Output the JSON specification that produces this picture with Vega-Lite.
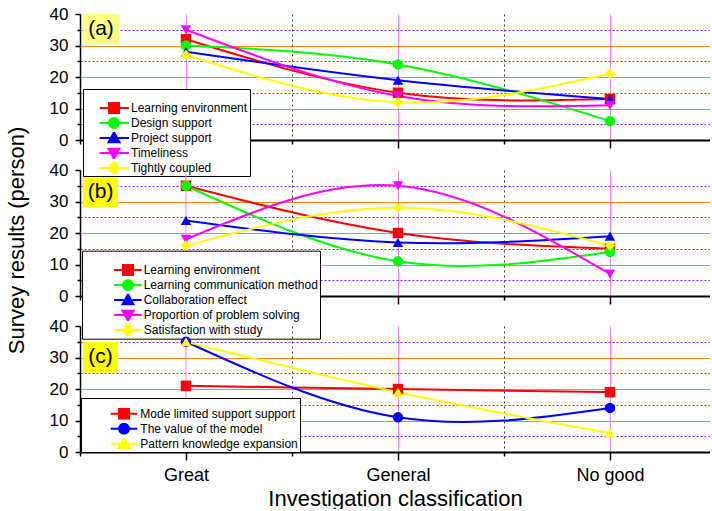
{
  "$schema": "https://vega.github.io/schema/vega-lite/v6.json",
  "padding": {"left": 5, "top": 5, "right": 0, "bottom": 0},
  "bounds": "flush",
  "spacing": 30,
  "config": {"font": "Liberation Sans", "view": {"stroke": null}},
  "data": {"values": [
    {"panel": "a", "series": "Learning environment", "category": "Great", "idx": 1, "value": 32},
    {"panel": "a", "series": "Learning environment", "category": "General", "idx": 2, "value": 15},
    {"panel": "a", "series": "Learning environment", "category": "No good", "idx": 3, "value": 13},
    {"panel": "a", "series": "Design support", "category": "Great", "idx": 1, "value": 30},
    {"panel": "a", "series": "Design support", "category": "General", "idx": 2, "value": 24},
    {"panel": "a", "series": "Design support", "category": "No good", "idx": 3, "value": 6},
    {"panel": "a", "series": "Project support", "category": "Great", "idx": 1, "value": 28},
    {"panel": "a", "series": "Project support", "category": "General", "idx": 2, "value": 19},
    {"panel": "a", "series": "Project support", "category": "No good", "idx": 3, "value": 13},
    {"panel": "a", "series": "Timeliness", "category": "Great", "idx": 1, "value": 35},
    {"panel": "a", "series": "Timeliness", "category": "General", "idx": 2, "value": 14},
    {"panel": "a", "series": "Timeliness", "category": "No good", "idx": 3, "value": 11},
    {"panel": "a", "series": "Tightly coupled", "category": "Great", "idx": 1, "value": 27},
    {"panel": "a", "series": "Tightly coupled", "category": "General", "idx": 2, "value": 12},
    {"panel": "a", "series": "Tightly coupled", "category": "No good", "idx": 3, "value": 21},
    {"panel": "b", "series": "Learning environment", "category": "Great", "idx": 1, "value": 35},
    {"panel": "b", "series": "Learning environment", "category": "General", "idx": 2, "value": 20},
    {"panel": "b", "series": "Learning environment", "category": "No good", "idx": 3, "value": 15},
    {"panel": "b", "series": "Learning communication method", "category": "Great", "idx": 1, "value": 35},
    {"panel": "b", "series": "Learning communication method", "category": "General", "idx": 2, "value": 11},
    {"panel": "b", "series": "Learning communication method", "category": "No good", "idx": 3, "value": 14},
    {"panel": "b", "series": "Collaboration effect", "category": "Great", "idx": 1, "value": 24},
    {"panel": "b", "series": "Collaboration effect", "category": "General", "idx": 2, "value": 17},
    {"panel": "b", "series": "Collaboration effect", "category": "No good", "idx": 3, "value": 19},
    {"panel": "b", "series": "Proportion of problem solving", "category": "Great", "idx": 1, "value": 18},
    {"panel": "b", "series": "Proportion of problem solving", "category": "General", "idx": 2, "value": 35},
    {"panel": "b", "series": "Proportion of problem solving", "category": "No good", "idx": 3, "value": 7},
    {"panel": "b", "series": "Satisfaction with study", "category": "Great", "idx": 1, "value": 16},
    {"panel": "b", "series": "Satisfaction with study", "category": "General", "idx": 2, "value": 28},
    {"panel": "b", "series": "Satisfaction with study", "category": "No good", "idx": 3, "value": 16},
    {"panel": "c", "series": "Mode limited support support", "category": "Great", "idx": 1, "value": 21},
    {"panel": "c", "series": "Mode limited support support", "category": "General", "idx": 2, "value": 20},
    {"panel": "c", "series": "Mode limited support support", "category": "No good", "idx": 3, "value": 19},
    {"panel": "c", "series": "The value of the model", "category": "Great", "idx": 1, "value": 35},
    {"panel": "c", "series": "The value of the model", "category": "General", "idx": 2, "value": 11},
    {"panel": "c", "series": "The value of the model", "category": "No good", "idx": 3, "value": 14},
    {"panel": "c", "series": "Pattern knowledge expansion", "category": "Great", "idx": 1, "value": 35},
    {"panel": "c", "series": "Pattern knowledge expansion", "category": "General", "idx": 2, "value": 19},
    {"panel": "c", "series": "Pattern knowledge expansion", "category": "No good", "idx": 3, "value": 6}
  ]},
  "vconcat": [
    {
      "width": 630, "height": 126,
      "resolve": {"scale": {"color": "independent", "shape": "independent", "fill": "independent", "stroke": "independent"}},
      "layer": [
        {
          "transform": [{"filter": "datum.panel === 'a'"}],
          "mark": {"type": "line", "interpolate": "natural", "strokeWidth": 2},
          "encoding": {
            "x": {"field": "idx", "type": "quantitative", "scale": {"domain": [0.5, 3.4717], "nice": false, "zero": false},
              "axis": {"values": [0.5, 1, 1.5, 2, 2.5, 3], "labels": false, "title": null, "tickSize": {"condition": {"test": "datum.value % 1 === 0", "value": 8}, "value": 4}, "tickColor": "black", "tickWidth": 1.5, "domainColor": "black", "domainWidth": 2, "grid": true, "gridColor": {"condition": {"test": "datum.value % 1 === 0", "value": "#ff80ff"}, "value": "#333333"}, "gridDash": {"condition": {"test": "datum.value % 1 === 0", "value": []}, "value": [2, 3]}, "gridOpacity": {"condition": {"test": "datum.value === 0.5", "value": 0}, "value": 1}, "gridWidth": 1}},
            "y": {"field": "value", "type": "quantitative", "scale": {"domain": [0, 40], "nice": false},
              "axis": {"values": [0, 5, 10, 15, 20, 25, 30, 35, 40], "title": null, "labelExpr": "datum.value % 10 === 0 ? datum.label : ''", "labelOverlap": false, "labelFlush": false, "labelFontSize": 17, "labelColor": "black", "labelPadding": 7, "tickSize": {"condition": {"test": "datum.value % 10 === 0", "value": 5}, "value": 3}, "tickColor": "black", "tickWidth": 1.5, "domainColor": "black", "domainWidth": 1.5, "grid": true, "gridColor": {"condition": {"test": "datum.value % 10 === 0", "value": "#ff8c1a"}, "value": "#8c1aff"}, "gridDash": {"condition": {"test": "datum.value % 10 === 0", "value": []}, "value": [2, 2]}, "gridOpacity": {"condition": {"test": "datum.value === 0 || datum.value === 40", "value": 0}, "value": 1}, "gridWidth": 1.2}},
            "color": {"field": "series", "type": "nominal",
              "scale": {"domain": ["Learning environment", "Design support", "Project support", "Timeliness", "Tightly coupled"], "range": ["#ff0000", "#00ff00", "#0000ff", "#ff00ff", "#ffff00"]}, "legend": null}
          }
        },
        {
          "transform": [{"filter": "datum.panel === 'a'"}],
          "mark": {"type": "point", "filled": true, "size": 110, "opacity": 1},
          "encoding": {
            "x": {"field": "idx", "type": "quantitative",
              "axis": {"values": [0.5, 1, 1.5, 2, 2.5, 3], "labels": false, "title": null, "tickSize": {"condition": {"test": "datum.value % 1 === 0", "value": 8}, "value": 4}, "tickColor": "black", "tickWidth": 1.5, "domainColor": "black", "domainWidth": 2, "grid": true, "gridColor": {"condition": {"test": "datum.value % 1 === 0", "value": "#ff80ff"}, "value": "#333333"}, "gridDash": {"condition": {"test": "datum.value % 1 === 0", "value": []}, "value": [2, 3]}, "gridOpacity": {"condition": {"test": "datum.value === 0.5", "value": 0}, "value": 1}, "gridWidth": 1}},
            "y": {"field": "value", "type": "quantitative",
              "axis": {"values": [0, 5, 10, 15, 20, 25, 30, 35, 40], "title": null, "labelExpr": "datum.value % 10 === 0 ? datum.label : ''", "labelOverlap": false, "labelFlush": false, "labelFontSize": 17, "labelColor": "black", "labelPadding": 7, "tickSize": {"condition": {"test": "datum.value % 10 === 0", "value": 5}, "value": 3}, "tickColor": "black", "tickWidth": 1.5, "domainColor": "black", "domainWidth": 1.5, "grid": true, "gridColor": {"condition": {"test": "datum.value % 10 === 0", "value": "#ff8c1a"}, "value": "#8c1aff"}, "gridDash": {"condition": {"test": "datum.value % 10 === 0", "value": []}, "value": [2, 2]}, "gridOpacity": {"condition": {"test": "datum.value === 0 || datum.value === 40", "value": 0}, "value": 1}, "gridWidth": 1.2}},
            "color": {"field": "series", "type": "nominal",
              "scale": {"domain": ["Learning environment", "Design support", "Project support", "Timeliness", "Tightly coupled"], "range": ["#ff0000", "#00ff00", "#0000ff", "#ff00ff", "#ffff00"]}, "legend": null},
            "shape": {"field": "series", "type": "nominal",
              "scale": {"domain": ["Learning environment", "Design support", "Project support", "Timeliness", "Tightly coupled"], "range": ["square", "circle", "triangle-up", "triangle-down", "diamond"]}, "legend": null}
          }
        },
        {
          "transform": [{"filter": "datum.panel === 'legend-a'"}],
          "mark": {"type": "point", "filled": true, "size": 100, "strokeWidth": 2, "opacity": 1},
          "encoding": {
            "fill": {"field": "series", "type": "nominal",
              "scale": {"domain": ["Learning environment", "Design support", "Project support", "Timeliness", "Tightly coupled"], "range": ["#ff0000", "#00ff00", "#0000ff", "#ff00ff", "#ffff00"]},
              "legend": {"title": ".", "titleColor": "white", "titleFontSize": 9, "titlePadding": 2, "orient": "none", "legendX": 3, "legendY": 75, "padding": 2, "strokeColor": "black", "fillColor": "white", "labelFontSize": 12, "labelColor": "black", "labelOffset": 34, "labelLimit": 500, "rowPadding": 3, "clipHeight": 12, "symbolSize": 100, "symbolStrokeWidth": 2, "symbolOpacity": 1}},
            "stroke": {"field": "series", "type": "nominal",
              "scale": {"domain": ["Learning environment", "Design support", "Project support", "Timeliness", "Tightly coupled"], "range": ["#ff0000", "#00ff00", "#0000ff", "#ff00ff", "#ffff00"]},
              "legend": {"title": ".", "titleColor": "white", "titleFontSize": 9, "titlePadding": 2, "orient": "none", "legendX": 3, "legendY": 75, "padding": 2, "strokeColor": "black", "fillColor": "white", "labelFontSize": 12, "labelColor": "black", "labelOffset": 34, "labelLimit": 500, "rowPadding": 3, "clipHeight": 12, "symbolSize": 100, "symbolStrokeWidth": 2, "symbolOpacity": 1}},
            "shape": {"field": "series", "type": "nominal",
              "scale": {"domain": ["Learning environment", "Design support", "Project support", "Timeliness", "Tightly coupled"], "range": ["M1.74,0H7.6M3.6,-1H5.6V1H3.6Z", "M1.74,0H7.6M3.6,0A1,1 0 1,0 5.6,0A1,1 0 1,0 3.6,0Z", "M1.74,0H7.6M4.6,-1.15L5.7,0.85H3.5Z", "M1.74,0H7.6M4.6,1.15L5.7,-0.85H3.5Z", "M1.74,0H7.6M4.6,-1.3L5.6,0L4.6,1.3L3.6,0Z"]},
              "legend": {"title": ".", "titleColor": "white", "titleFontSize": 9, "titlePadding": 2, "orient": "none", "legendX": 3, "legendY": 75, "padding": 2, "strokeColor": "black", "fillColor": "white", "labelFontSize": 12, "labelColor": "black", "labelOffset": 34, "labelLimit": 500, "rowPadding": 3, "clipHeight": 12, "symbolSize": 100, "symbolStrokeWidth": 2, "symbolOpacity": 1}}
          }
        },
        {
          "data": {"values": [{"label": "(a)"}]},
          "mark": {"type": "rect", "color": "#ffff80"},
          "encoding": {
            "x": {"datum": 0.514, "axis": {"values": [0.5, 1, 1.5, 2, 2.5, 3], "labels": false, "title": null, "tickSize": {"condition": {"test": "datum.value % 1 === 0", "value": 8}, "value": 4}, "tickColor": "black", "tickWidth": 1.5, "domainColor": "black", "domainWidth": 2, "grid": true, "gridColor": {"condition": {"test": "datum.value % 1 === 0", "value": "#ff80ff"}, "value": "#333333"}, "gridDash": {"condition": {"test": "datum.value % 1 === 0", "value": []}, "value": [2, 3]}, "gridOpacity": {"condition": {"test": "datum.value === 0.5", "value": 0}, "value": 1}, "gridWidth": 1}},
            "x2": {"datum": 0.684},
            "y": {"datum": 40, "axis": {"values": [0, 5, 10, 15, 20, 25, 30, 35, 40], "title": null, "labelExpr": "datum.value % 10 === 0 ? datum.label : ''", "labelOverlap": false, "labelFlush": false, "labelFontSize": 17, "labelColor": "black", "labelPadding": 7, "tickSize": {"condition": {"test": "datum.value % 10 === 0", "value": 5}, "value": 3}, "tickColor": "black", "tickWidth": 1.5, "domainColor": "black", "domainWidth": 1.5, "grid": true, "gridColor": {"condition": {"test": "datum.value % 10 === 0", "value": "#ff8c1a"}, "value": "#8c1aff"}, "gridDash": {"condition": {"test": "datum.value % 10 === 0", "value": []}, "value": [2, 2]}, "gridOpacity": {"condition": {"test": "datum.value === 0 || datum.value === 40", "value": 0}, "value": 1}, "gridWidth": 1.2}},
            "y2": {"datum": 30.5}
          }
        },
        {
          "data": {"values": [{"label": "(a)"}]},
          "mark": {"type": "text", "fontSize": 21, "color": "black"},
          "encoding": {
            "x": {"datum": 0.599, "axis": {"values": [0.5, 1, 1.5, 2, 2.5, 3], "labels": false, "title": null, "tickSize": {"condition": {"test": "datum.value % 1 === 0", "value": 8}, "value": 4}, "tickColor": "black", "tickWidth": 1.5, "domainColor": "black", "domainWidth": 2, "grid": true, "gridColor": {"condition": {"test": "datum.value % 1 === 0", "value": "#ff80ff"}, "value": "#333333"}, "gridDash": {"condition": {"test": "datum.value % 1 === 0", "value": []}, "value": [2, 3]}, "gridOpacity": {"condition": {"test": "datum.value === 0.5", "value": 0}, "value": 1}, "gridWidth": 1}},
            "y": {"datum": 35.25, "axis": {"values": [0, 5, 10, 15, 20, 25, 30, 35, 40], "title": null, "labelExpr": "datum.value % 10 === 0 ? datum.label : ''", "labelOverlap": false, "labelFlush": false, "labelFontSize": 17, "labelColor": "black", "labelPadding": 7, "tickSize": {"condition": {"test": "datum.value % 10 === 0", "value": 5}, "value": 3}, "tickColor": "black", "tickWidth": 1.5, "domainColor": "black", "domainWidth": 1.5, "grid": true, "gridColor": {"condition": {"test": "datum.value % 10 === 0", "value": "#ff8c1a"}, "value": "#8c1aff"}, "gridDash": {"condition": {"test": "datum.value % 10 === 0", "value": []}, "value": [2, 2]}, "gridOpacity": {"condition": {"test": "datum.value === 0 || datum.value === 40", "value": 0}, "value": 1}, "gridWidth": 1.2}},
            "text": {"field": "label"}
          }
        }
      ]
    },
    {
      "width": 630, "height": 126,
      "resolve": {"scale": {"color": "independent", "shape": "independent", "fill": "independent", "stroke": "independent"}},
      "layer": [
        {
          "data": {"values": [{"label": "Great"}]},
          "mark": {"type": "rule", "color": "#ff80ff", "strokeWidth": 1},
          "encoding": {
            "x": {"datum": 1, "scale": {"domain": [0.5, 3.4717], "nice": false, "zero": false}, "axis": {"values": [0.5, 1, 1.5, 2, 2.5, 3], "labels": false, "title": null, "tickSize": {"condition": {"test": "datum.value % 1 === 0", "value": 8}, "value": 4}, "tickColor": "black", "tickWidth": 1.5, "domainColor": "black", "domainWidth": 2, "grid": true, "gridColor": {"condition": {"test": "datum.value % 1 === 0", "value": "#ff80ff"}, "value": "#333333"}, "gridDash": {"condition": {"test": "datum.value % 1 === 0", "value": []}, "value": [2, 3]}, "gridOpacity": {"condition": {"test": "datum.value === 0.5 || datum.value === 1", "value": 0}, "value": 1}, "gridWidth": 1}},
            "y": {"datum": 0, "scale": {"domain": [0, 40], "nice": false}, "axis": {"values": [0, 5, 10, 15, 20, 25, 30, 35, 40], "title": "Survey results (person)", "titleFontSize": 22, "titleFontWeight": "normal", "titleColor": "black", "titleAngle": 270, "titleAlign": "center", "titleBaseline": "alphabetic", "titleX": -57, "titleY": 70, "labelExpr": "datum.value % 10 === 0 ? datum.label : ''", "labelOverlap": false, "labelFlush": false, "labelFontSize": 17, "labelColor": "black", "labelPadding": 7, "tickSize": {"condition": {"test": "datum.value % 10 === 0", "value": 5}, "value": 3}, "tickColor": "black", "tickWidth": 1.5, "domainColor": "black", "domainWidth": 1.5, "grid": true, "gridColor": {"condition": {"test": "datum.value % 10 === 0", "value": "#ff8c1a"}, "value": "#8c1aff"}, "gridDash": {"condition": {"test": "datum.value % 10 === 0", "value": []}, "value": [2, 2]}, "gridOpacity": {"condition": {"test": "datum.value === 0 || datum.value === 40", "value": 0}, "value": 1}, "gridWidth": 1.2}},
            "y2": {"datum": 38.7}
          }
        },
        {
          "transform": [{"filter": "datum.panel === 'b'"}],
          "mark": {"type": "line", "interpolate": "natural", "strokeWidth": 2},
          "encoding": {
            "x": {"field": "idx", "type": "quantitative", "axis": {"values": [0.5, 1, 1.5, 2, 2.5, 3], "labels": false, "title": null, "tickSize": {"condition": {"test": "datum.value % 1 === 0", "value": 8}, "value": 4}, "tickColor": "black", "tickWidth": 1.5, "domainColor": "black", "domainWidth": 2, "grid": true, "gridColor": {"condition": {"test": "datum.value % 1 === 0", "value": "#ff80ff"}, "value": "#333333"}, "gridDash": {"condition": {"test": "datum.value % 1 === 0", "value": []}, "value": [2, 3]}, "gridOpacity": {"condition": {"test": "datum.value === 0.5 || datum.value === 1", "value": 0}, "value": 1}, "gridWidth": 1}},
            "y": {"field": "value", "type": "quantitative", "axis": {"values": [0, 5, 10, 15, 20, 25, 30, 35, 40], "title": "Survey results (person)", "titleFontSize": 22, "titleFontWeight": "normal", "titleColor": "black", "titleAngle": 270, "titleAlign": "center", "titleBaseline": "alphabetic", "titleX": -57, "titleY": 70, "labelExpr": "datum.value % 10 === 0 ? datum.label : ''", "labelOverlap": false, "labelFlush": false, "labelFontSize": 17, "labelColor": "black", "labelPadding": 7, "tickSize": {"condition": {"test": "datum.value % 10 === 0", "value": 5}, "value": 3}, "tickColor": "black", "tickWidth": 1.5, "domainColor": "black", "domainWidth": 1.5, "grid": true, "gridColor": {"condition": {"test": "datum.value % 10 === 0", "value": "#ff8c1a"}, "value": "#8c1aff"}, "gridDash": {"condition": {"test": "datum.value % 10 === 0", "value": []}, "value": [2, 2]}, "gridOpacity": {"condition": {"test": "datum.value === 0 || datum.value === 40", "value": 0}, "value": 1}, "gridWidth": 1.2}},
            "color": {"field": "series", "type": "nominal",
              "scale": {"domain": ["Learning environment", "Learning communication method", "Collaboration effect", "Proportion of problem solving", "Satisfaction with study"], "range": ["#ff0000", "#00ff00", "#0000ff", "#ff00ff", "#ffff00"]}, "legend": null}
          }
        },
        {
          "transform": [{"filter": "datum.panel === 'b'"}],
          "mark": {"type": "point", "filled": true, "size": 110, "opacity": 1},
          "encoding": {
            "x": {"field": "idx", "type": "quantitative", "axis": {"values": [0.5, 1, 1.5, 2, 2.5, 3], "labels": false, "title": null, "tickSize": {"condition": {"test": "datum.value % 1 === 0", "value": 8}, "value": 4}, "tickColor": "black", "tickWidth": 1.5, "domainColor": "black", "domainWidth": 2, "grid": true, "gridColor": {"condition": {"test": "datum.value % 1 === 0", "value": "#ff80ff"}, "value": "#333333"}, "gridDash": {"condition": {"test": "datum.value % 1 === 0", "value": []}, "value": [2, 3]}, "gridOpacity": {"condition": {"test": "datum.value === 0.5 || datum.value === 1", "value": 0}, "value": 1}, "gridWidth": 1}},
            "y": {"field": "value", "type": "quantitative", "axis": {"values": [0, 5, 10, 15, 20, 25, 30, 35, 40], "title": "Survey results (person)", "titleFontSize": 22, "titleFontWeight": "normal", "titleColor": "black", "titleAngle": 270, "titleAlign": "center", "titleBaseline": "alphabetic", "titleX": -57, "titleY": 70, "labelExpr": "datum.value % 10 === 0 ? datum.label : ''", "labelOverlap": false, "labelFlush": false, "labelFontSize": 17, "labelColor": "black", "labelPadding": 7, "tickSize": {"condition": {"test": "datum.value % 10 === 0", "value": 5}, "value": 3}, "tickColor": "black", "tickWidth": 1.5, "domainColor": "black", "domainWidth": 1.5, "grid": true, "gridColor": {"condition": {"test": "datum.value % 10 === 0", "value": "#ff8c1a"}, "value": "#8c1aff"}, "gridDash": {"condition": {"test": "datum.value % 10 === 0", "value": []}, "value": [2, 2]}, "gridOpacity": {"condition": {"test": "datum.value === 0 || datum.value === 40", "value": 0}, "value": 1}, "gridWidth": 1.2}},
            "color": {"field": "series", "type": "nominal",
              "scale": {"domain": ["Learning environment", "Learning communication method", "Collaboration effect", "Proportion of problem solving", "Satisfaction with study"], "range": ["#ff0000", "#00ff00", "#0000ff", "#ff00ff", "#ffff00"]}, "legend": null},
            "shape": {"field": "series", "type": "nominal",
              "scale": {"domain": ["Learning environment", "Learning communication method", "Collaboration effect", "Proportion of problem solving", "Satisfaction with study"], "range": ["square", "circle", "triangle-up", "triangle-down", "diamond"]}, "legend": null}
          }
        },
        {
          "transform": [{"filter": "datum.panel === 'legend-b'"}],
          "mark": {"type": "point", "filled": true, "size": 100, "strokeWidth": 2, "opacity": 1},
          "encoding": {
            "fill": {"field": "series", "type": "nominal",
              "scale": {"domain": ["Learning environment", "Learning communication method", "Collaboration effect", "Proportion of problem solving", "Satisfaction with study"], "range": ["#ff0000", "#00ff00", "#0000ff", "#ff00ff", "#ffff00"]},
              "legend": {"title": ".", "titleColor": "white", "titleFontSize": 9, "titlePadding": 2.3, "orient": "none", "legendX": 2, "legendY": 80.7, "padding": 2, "strokeColor": "black", "fillColor": "white", "labelFontSize": 12, "labelColor": "black", "labelOffset": 47.7, "labelLimit": 500, "rowPadding": 3, "clipHeight": 12, "symbolSize": 100, "symbolStrokeWidth": 2, "symbolOpacity": 1}},
            "stroke": {"field": "series", "type": "nominal",
              "scale": {"domain": ["Learning environment", "Learning communication method", "Collaboration effect", "Proportion of problem solving", "Satisfaction with study"], "range": ["#ff0000", "#00ff00", "#0000ff", "#ff00ff", "#ffff00"]},
              "legend": {"title": ".", "titleColor": "white", "titleFontSize": 9, "titlePadding": 2.3, "orient": "none", "legendX": 2, "legendY": 80.7, "padding": 2, "strokeColor": "black", "fillColor": "white", "labelFontSize": 12, "labelColor": "black", "labelOffset": 47.7, "labelLimit": 500, "rowPadding": 3, "clipHeight": 12, "symbolSize": 100, "symbolStrokeWidth": 2, "symbolOpacity": 1}},
            "shape": {"field": "series", "type": "nominal",
              "scale": {"domain": ["Learning environment", "Learning communication method", "Collaboration effect", "Proportion of problem solving", "Satisfaction with study"], "range": ["M4.8,0H10.34M6.6,-1H8.6V1H6.6Z", "M4.8,0H10.34M6.6,0A1,1 0 1,0 8.6,0A1,1 0 1,0 6.6,0Z", "M4.8,0H10.34M7.6,-1.15L8.7,0.85H6.5Z", "M4.8,0H10.34M7.6,1.15L8.7,-0.85H6.5Z", "M4.8,0H10.34M7.6,-1.3L8.6,0L7.6,1.3L6.6,0Z"]},
              "legend": {"title": ".", "titleColor": "white", "titleFontSize": 9, "titlePadding": 2.3, "orient": "none", "legendX": 2, "legendY": 80.7, "padding": 2, "strokeColor": "black", "fillColor": "white", "labelFontSize": 12, "labelColor": "black", "labelOffset": 47.7, "labelLimit": 500, "rowPadding": 3, "clipHeight": 12, "symbolSize": 100, "symbolStrokeWidth": 2, "symbolOpacity": 1}}
          }
        },
        {
          "data": {"values": [{"label": "(b)"}]},
          "mark": {"type": "rect", "color": "#ffff00"},
          "encoding": {
            "x": {"datum": 0.514, "axis": {"values": [0.5, 1, 1.5, 2, 2.5, 3], "labels": false, "title": null, "tickSize": {"condition": {"test": "datum.value % 1 === 0", "value": 8}, "value": 4}, "tickColor": "black", "tickWidth": 1.5, "domainColor": "black", "domainWidth": 2, "grid": true, "gridColor": {"condition": {"test": "datum.value % 1 === 0", "value": "#ff80ff"}, "value": "#333333"}, "gridDash": {"condition": {"test": "datum.value % 1 === 0", "value": []}, "value": [2, 3]}, "gridOpacity": {"condition": {"test": "datum.value === 0.5 || datum.value === 1", "value": 0}, "value": 1}, "gridWidth": 1}},
            "x2": {"datum": 0.679},
            "y": {"datum": 37.7, "axis": {"values": [0, 5, 10, 15, 20, 25, 30, 35, 40], "title": "Survey results (person)", "titleFontSize": 22, "titleFontWeight": "normal", "titleColor": "black", "titleAngle": 270, "titleAlign": "center", "titleBaseline": "alphabetic", "titleX": -57, "titleY": 70, "labelExpr": "datum.value % 10 === 0 ? datum.label : ''", "labelOverlap": false, "labelFlush": false, "labelFontSize": 17, "labelColor": "black", "labelPadding": 7, "tickSize": {"condition": {"test": "datum.value % 10 === 0", "value": 5}, "value": 3}, "tickColor": "black", "tickWidth": 1.5, "domainColor": "black", "domainWidth": 1.5, "grid": true, "gridColor": {"condition": {"test": "datum.value % 10 === 0", "value": "#ff8c1a"}, "value": "#8c1aff"}, "gridDash": {"condition": {"test": "datum.value % 10 === 0", "value": []}, "value": [2, 2]}, "gridOpacity": {"condition": {"test": "datum.value === 0 || datum.value === 40", "value": 0}, "value": 1}, "gridWidth": 1.2}},
            "y2": {"datum": 28.2}
          }
        },
        {
          "data": {"values": [{"label": "(b)"}]},
          "mark": {"type": "text", "fontSize": 21, "color": "black"},
          "encoding": {
            "x": {"datum": 0.597, "axis": {"values": [0.5, 1, 1.5, 2, 2.5, 3], "labels": false, "title": null, "tickSize": {"condition": {"test": "datum.value % 1 === 0", "value": 8}, "value": 4}, "tickColor": "black", "tickWidth": 1.5, "domainColor": "black", "domainWidth": 2, "grid": true, "gridColor": {"condition": {"test": "datum.value % 1 === 0", "value": "#ff80ff"}, "value": "#333333"}, "gridDash": {"condition": {"test": "datum.value % 1 === 0", "value": []}, "value": [2, 3]}, "gridOpacity": {"condition": {"test": "datum.value === 0.5 || datum.value === 1", "value": 0}, "value": 1}, "gridWidth": 1}},
            "y": {"datum": 32.95, "axis": {"values": [0, 5, 10, 15, 20, 25, 30, 35, 40], "title": "Survey results (person)", "titleFontSize": 22, "titleFontWeight": "normal", "titleColor": "black", "titleAngle": 270, "titleAlign": "center", "titleBaseline": "alphabetic", "titleX": -57, "titleY": 70, "labelExpr": "datum.value % 10 === 0 ? datum.label : ''", "labelOverlap": false, "labelFlush": false, "labelFontSize": 17, "labelColor": "black", "labelPadding": 7, "tickSize": {"condition": {"test": "datum.value % 10 === 0", "value": 5}, "value": 3}, "tickColor": "black", "tickWidth": 1.5, "domainColor": "black", "domainWidth": 1.5, "grid": true, "gridColor": {"condition": {"test": "datum.value % 10 === 0", "value": "#ff8c1a"}, "value": "#8c1aff"}, "gridDash": {"condition": {"test": "datum.value % 10 === 0", "value": []}, "value": [2, 2]}, "gridOpacity": {"condition": {"test": "datum.value === 0 || datum.value === 40", "value": 0}, "value": 1}, "gridWidth": 1.2}},
            "text": {"field": "label"}
          }
        }
      ]
    },
    {
      "width": 630, "height": 126,
      "resolve": {"scale": {"color": "independent", "shape": "independent", "fill": "independent", "stroke": "independent"}},
      "layer": [
        {
          "data": {"values": [{"label": "Great"}]},
          "mark": {"type": "rule", "color": "#ff80ff", "strokeWidth": 1},
          "encoding": {
            "x": {"datum": 1, "scale": {"domain": [0.5, 3.4717], "nice": false, "zero": false}, "axis": {"values": [0.5, 1, 1.5, 2, 2.5, 3], "labelExpr": "datum.value === 1 ? 'Great' : datum.value === 2 ? 'General' : datum.value === 3 ? 'No good' : ''", "labelOverlap": false, "labelFlush": false, "labelFontSize": 18, "labelColor": "black", "labelPadding": 6, "title": "Investigation classification", "titleFontSize": 22, "titleFontWeight": "normal", "titleColor": "black", "titlePadding": 4, "tickSize": {"condition": {"test": "datum.value % 1 === 0", "value": 8}, "value": 4}, "tickColor": "black", "tickWidth": 1.5, "domainColor": "black", "domainWidth": 2, "grid": true, "gridColor": {"condition": {"test": "datum.value % 1 === 0", "value": "#ff80ff"}, "value": "#333333"}, "gridDash": {"condition": {"test": "datum.value % 1 === 0", "value": []}, "value": [2, 3]}, "gridOpacity": {"condition": {"test": "datum.value === 0.5 || datum.value === 1", "value": 0}, "value": 1}, "gridWidth": 1}},
            "y": {"datum": 0, "scale": {"domain": [0, 40], "nice": false}, "axis": {"values": [0, 5, 10, 15, 20, 25, 30, 35, 40], "title": null, "labelExpr": "datum.value % 10 === 0 ? datum.label : ''", "labelOverlap": false, "labelFlush": false, "labelFontSize": 17, "labelColor": "black", "labelPadding": 7, "tickSize": {"condition": {"test": "datum.value % 10 === 0", "value": 5}, "value": 3}, "tickColor": "black", "tickWidth": 1.5, "domainColor": "black", "domainWidth": 1.5, "grid": true, "gridColor": {"condition": {"test": "datum.value % 10 === 0", "value": "#ff8c1a"}, "value": "#8c1aff"}, "gridDash": {"condition": {"test": "datum.value % 10 === 0", "value": []}, "value": [2, 2]}, "gridOpacity": {"condition": {"test": "datum.value === 0 || datum.value === 40", "value": 0}, "value": 1}, "gridWidth": 1.2}},
            "y2": {"datum": 36.6}
          }
        },
        {
          "transform": [{"filter": "datum.panel === 'c'"}],
          "mark": {"type": "line", "interpolate": "natural", "strokeWidth": 2},
          "encoding": {
            "x": {"field": "idx", "type": "quantitative", "axis": {"values": [0.5, 1, 1.5, 2, 2.5, 3], "labelExpr": "datum.value === 1 ? 'Great' : datum.value === 2 ? 'General' : datum.value === 3 ? 'No good' : ''", "labelOverlap": false, "labelFlush": false, "labelFontSize": 18, "labelColor": "black", "labelPadding": 6, "title": "Investigation classification", "titleFontSize": 22, "titleFontWeight": "normal", "titleColor": "black", "titlePadding": 4, "tickSize": {"condition": {"test": "datum.value % 1 === 0", "value": 8}, "value": 4}, "tickColor": "black", "tickWidth": 1.5, "domainColor": "black", "domainWidth": 2, "grid": true, "gridColor": {"condition": {"test": "datum.value % 1 === 0", "value": "#ff80ff"}, "value": "#333333"}, "gridDash": {"condition": {"test": "datum.value % 1 === 0", "value": []}, "value": [2, 3]}, "gridOpacity": {"condition": {"test": "datum.value === 0.5 || datum.value === 1", "value": 0}, "value": 1}, "gridWidth": 1}},
            "y": {"field": "value", "type": "quantitative", "axis": {"values": [0, 5, 10, 15, 20, 25, 30, 35, 40], "title": null, "labelExpr": "datum.value % 10 === 0 ? datum.label : ''", "labelOverlap": false, "labelFlush": false, "labelFontSize": 17, "labelColor": "black", "labelPadding": 7, "tickSize": {"condition": {"test": "datum.value % 10 === 0", "value": 5}, "value": 3}, "tickColor": "black", "tickWidth": 1.5, "domainColor": "black", "domainWidth": 1.5, "grid": true, "gridColor": {"condition": {"test": "datum.value % 10 === 0", "value": "#ff8c1a"}, "value": "#8c1aff"}, "gridDash": {"condition": {"test": "datum.value % 10 === 0", "value": []}, "value": [2, 2]}, "gridOpacity": {"condition": {"test": "datum.value === 0 || datum.value === 40", "value": 0}, "value": 1}, "gridWidth": 1.2}},
            "color": {"field": "series", "type": "nominal",
              "scale": {"domain": ["Mode limited support support", "The value of the model", "Pattern knowledge expansion"], "range": ["#ff0000", "#0000ff", "#ffff00"]}, "legend": null}
          }
        },
        {
          "transform": [{"filter": "datum.panel === 'c'"}],
          "mark": {"type": "point", "filled": true, "size": 110, "opacity": 1},
          "encoding": {
            "x": {"field": "idx", "type": "quantitative", "axis": {"values": [0.5, 1, 1.5, 2, 2.5, 3], "labelExpr": "datum.value === 1 ? 'Great' : datum.value === 2 ? 'General' : datum.value === 3 ? 'No good' : ''", "labelOverlap": false, "labelFlush": false, "labelFontSize": 18, "labelColor": "black", "labelPadding": 6, "title": "Investigation classification", "titleFontSize": 22, "titleFontWeight": "normal", "titleColor": "black", "titlePadding": 4, "tickSize": {"condition": {"test": "datum.value % 1 === 0", "value": 8}, "value": 4}, "tickColor": "black", "tickWidth": 1.5, "domainColor": "black", "domainWidth": 2, "grid": true, "gridColor": {"condition": {"test": "datum.value % 1 === 0", "value": "#ff80ff"}, "value": "#333333"}, "gridDash": {"condition": {"test": "datum.value % 1 === 0", "value": []}, "value": [2, 3]}, "gridOpacity": {"condition": {"test": "datum.value === 0.5 || datum.value === 1", "value": 0}, "value": 1}, "gridWidth": 1}},
            "y": {"field": "value", "type": "quantitative", "axis": {"values": [0, 5, 10, 15, 20, 25, 30, 35, 40], "title": null, "labelExpr": "datum.value % 10 === 0 ? datum.label : ''", "labelOverlap": false, "labelFlush": false, "labelFontSize": 17, "labelColor": "black", "labelPadding": 7, "tickSize": {"condition": {"test": "datum.value % 10 === 0", "value": 5}, "value": 3}, "tickColor": "black", "tickWidth": 1.5, "domainColor": "black", "domainWidth": 1.5, "grid": true, "gridColor": {"condition": {"test": "datum.value % 10 === 0", "value": "#ff8c1a"}, "value": "#8c1aff"}, "gridDash": {"condition": {"test": "datum.value % 10 === 0", "value": []}, "value": [2, 2]}, "gridOpacity": {"condition": {"test": "datum.value === 0 || datum.value === 40", "value": 0}, "value": 1}, "gridWidth": 1.2}},
            "color": {"field": "series", "type": "nominal",
              "scale": {"domain": ["Mode limited support support", "The value of the model", "Pattern knowledge expansion"], "range": ["#ff0000", "#0000ff", "#ffff00"]}, "legend": null},
            "shape": {"field": "series", "type": "nominal",
              "scale": {"domain": ["Mode limited support support", "The value of the model", "Pattern knowledge expansion"], "range": ["square", "circle", "triangle-up"]}, "legend": null}
          }
        },
        {
          "transform": [{"filter": "datum.panel === 'legend-c'"}],
          "mark": {"type": "point", "filled": true, "size": 100, "strokeWidth": 2, "opacity": 1},
          "encoding": {
            "fill": {"field": "series", "type": "nominal",
              "scale": {"domain": ["Mode limited support support", "The value of the model", "Pattern knowledge expansion"], "range": ["#ff0000", "#0000ff", "#ffff00"]},
              "legend": {"title": ".", "titleColor": "white", "titleFontSize": 6, "titlePadding": 1.7, "orient": "none", "legendX": 1, "legendY": 72, "padding": 2, "strokeColor": "black", "fillColor": "white", "labelFontSize": 12, "labelColor": "black", "labelOffset": 45.3, "labelLimit": 500, "rowPadding": 3, "clipHeight": 12, "symbolSize": 100, "symbolStrokeWidth": 2, "symbolOpacity": 1}},
            "stroke": {"field": "series", "type": "nominal",
              "scale": {"domain": ["Mode limited support support", "The value of the model", "Pattern knowledge expansion"], "range": ["#ff0000", "#0000ff", "#ffff00"]},
              "legend": {"title": ".", "titleColor": "white", "titleFontSize": 6, "titlePadding": 1.7, "orient": "none", "legendX": 1, "legendY": 72, "padding": 2, "strokeColor": "black", "fillColor": "white", "labelFontSize": 12, "labelColor": "black", "labelOffset": 45.3, "labelLimit": 500, "rowPadding": 3, "clipHeight": 12, "symbolSize": 100, "symbolStrokeWidth": 2, "symbolOpacity": 1}},
            "shape": {"field": "series", "type": "nominal",
              "scale": {"domain": ["Mode limited support support", "The value of the model", "Pattern knowledge expansion"], "range": ["M4.34,0H9.66M6,-1H8V1H6Z", "M4.34,0H9.66M6,0A1,1 0 1,0 8,0A1,1 0 1,0 6,0Z", "M4.34,0H9.66M7,-1.15L8.1,0.85H5.9Z"]},
              "legend": {"title": ".", "titleColor": "white", "titleFontSize": 6, "titlePadding": 1.7, "orient": "none", "legendX": 1, "legendY": 72, "padding": 2, "strokeColor": "black", "fillColor": "white", "labelFontSize": 12, "labelColor": "black", "labelOffset": 45.3, "labelLimit": 500, "rowPadding": 3, "clipHeight": 12, "symbolSize": 100, "symbolStrokeWidth": 2, "symbolOpacity": 1}}
          }
        },
        {
          "data": {"values": [{"label": "(c)"}]},
          "mark": {"type": "rect", "color": "#ffff00"},
          "encoding": {
            "x": {"datum": 0.514, "axis": {"values": [0.5, 1, 1.5, 2, 2.5, 3], "labelExpr": "datum.value === 1 ? 'Great' : datum.value === 2 ? 'General' : datum.value === 3 ? 'No good' : ''", "labelOverlap": false, "labelFlush": false, "labelFontSize": 18, "labelColor": "black", "labelPadding": 6, "title": "Investigation classification", "titleFontSize": 22, "titleFontWeight": "normal", "titleColor": "black", "titlePadding": 4, "tickSize": {"condition": {"test": "datum.value % 1 === 0", "value": 8}, "value": 4}, "tickColor": "black", "tickWidth": 1.5, "domainColor": "black", "domainWidth": 2, "grid": true, "gridColor": {"condition": {"test": "datum.value % 1 === 0", "value": "#ff80ff"}, "value": "#333333"}, "gridDash": {"condition": {"test": "datum.value % 1 === 0", "value": []}, "value": [2, 3]}, "gridOpacity": {"condition": {"test": "datum.value === 0.5 || datum.value === 1", "value": 0}, "value": 1}, "gridWidth": 1}},
            "x2": {"datum": 0.679},
            "y": {"datum": 35.0, "axis": {"values": [0, 5, 10, 15, 20, 25, 30, 35, 40], "title": null, "labelExpr": "datum.value % 10 === 0 ? datum.label : ''", "labelOverlap": false, "labelFlush": false, "labelFontSize": 17, "labelColor": "black", "labelPadding": 7, "tickSize": {"condition": {"test": "datum.value % 10 === 0", "value": 5}, "value": 3}, "tickColor": "black", "tickWidth": 1.5, "domainColor": "black", "domainWidth": 1.5, "grid": true, "gridColor": {"condition": {"test": "datum.value % 10 === 0", "value": "#ff8c1a"}, "value": "#8c1aff"}, "gridDash": {"condition": {"test": "datum.value % 10 === 0", "value": []}, "value": [2, 2]}, "gridOpacity": {"condition": {"test": "datum.value === 0 || datum.value === 40", "value": 0}, "value": 1}, "gridWidth": 1.2}},
            "y2": {"datum": 25.2}
          }
        },
        {
          "data": {"values": [{"label": "(c)"}]},
          "mark": {"type": "text", "fontSize": 21, "color": "black"},
          "encoding": {
            "x": {"datum": 0.597, "axis": {"values": [0.5, 1, 1.5, 2, 2.5, 3], "labelExpr": "datum.value === 1 ? 'Great' : datum.value === 2 ? 'General' : datum.value === 3 ? 'No good' : ''", "labelOverlap": false, "labelFlush": false, "labelFontSize": 18, "labelColor": "black", "labelPadding": 6, "title": "Investigation classification", "titleFontSize": 22, "titleFontWeight": "normal", "titleColor": "black", "titlePadding": 4, "tickSize": {"condition": {"test": "datum.value % 1 === 0", "value": 8}, "value": 4}, "tickColor": "black", "tickWidth": 1.5, "domainColor": "black", "domainWidth": 2, "grid": true, "gridColor": {"condition": {"test": "datum.value % 1 === 0", "value": "#ff80ff"}, "value": "#333333"}, "gridDash": {"condition": {"test": "datum.value % 1 === 0", "value": []}, "value": [2, 3]}, "gridOpacity": {"condition": {"test": "datum.value === 0.5 || datum.value === 1", "value": 0}, "value": 1}, "gridWidth": 1}},
            "y": {"datum": 30.1, "axis": {"values": [0, 5, 10, 15, 20, 25, 30, 35, 40], "title": null, "labelExpr": "datum.value % 10 === 0 ? datum.label : ''", "labelOverlap": false, "labelFlush": false, "labelFontSize": 17, "labelColor": "black", "labelPadding": 7, "tickSize": {"condition": {"test": "datum.value % 10 === 0", "value": 5}, "value": 3}, "tickColor": "black", "tickWidth": 1.5, "domainColor": "black", "domainWidth": 1.5, "grid": true, "gridColor": {"condition": {"test": "datum.value % 10 === 0", "value": "#ff8c1a"}, "value": "#8c1aff"}, "gridDash": {"condition": {"test": "datum.value % 10 === 0", "value": []}, "value": [2, 2]}, "gridOpacity": {"condition": {"test": "datum.value === 0 || datum.value === 40", "value": 0}, "value": 1}, "gridWidth": 1.2}},
            "text": {"field": "label"}
          }
        }
      ]
    }
  ],
  "resolve": {
    "scale": {"x": "independent", "y": "independent", "color": "independent", "shape": "independent", "fill": "independent", "stroke": "independent"},
    "axis": {"x": "independent", "y": "independent"},
    "legend": {"color": "independent", "shape": "independent", "fill": "independent", "stroke": "independent"}
  }
}
